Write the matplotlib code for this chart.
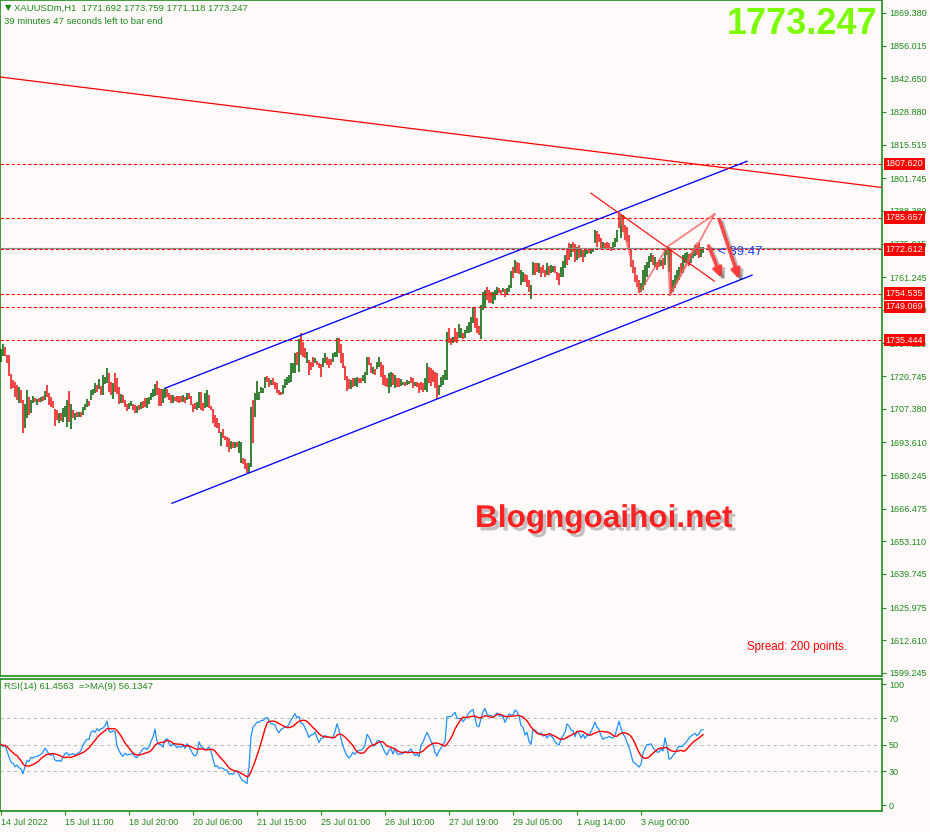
import matplotlib
matplotlib.use("Agg")
import matplotlib.pyplot as plt
import matplotlib.patheffects as pe
import pandas as pd

# -------------------------------------------------------------------
# DATA

# bar highs / lows, one per hour bar, oldest first
highs = [
    1731.8, 1733.9, 1732.8, 1729.4, 1729.4, 1721.6, 1719.2, 1718.5, 1717.1, 1716.2,
    1715.1, 1711.0, 1709.3, 1715.1, 1712.3, 1711.0, 1712.6, 1711.6, 1711.2, 1711.6,
    1712.3, 1712.6, 1714.8, 1717.1, 1714.0, 1712.3, 1710.7, 1707.1, 1706.9, 1705.5,
    1705.8, 1707.5, 1708.5, 1711.0, 1714.6, 1709.3, 1706.9, 1705.8, 1706.2, 1706.2,
    1706.2, 1708.0, 1709.3, 1711.2, 1710.7, 1715.1, 1715.3, 1718.1, 1717.1, 1719.4,
    1716.7, 1721.2, 1720.5, 1723.9, 1722.2, 1718.5, 1717.8, 1721.9, 1719.8, 1716.2,
    1713.4, 1713.0, 1711.0, 1709.3, 1709.9, 1710.7, 1709.3, 1708.9, 1708.5, 1708.9,
    1710.3, 1710.7, 1711.6, 1711.6, 1712.3, 1713.7, 1715.3, 1717.5, 1718.9, 1715.7,
    1715.3, 1715.3, 1715.7, 1715.3, 1713.7, 1713.0, 1713.0, 1712.3, 1712.6, 1712.6,
    1712.6, 1713.0, 1712.3, 1714.0, 1714.0, 1712.6, 1709.3, 1709.9, 1710.3, 1714.4,
    1714.4, 1709.9, 1713.7, 1715.1, 1713.0, 1708.5, 1707.1, 1704.8, 1703.5, 1701.7,
    1698.0, 1698.9, 1696.2, 1696.0, 1695.3, 1694.3, 1693.9, 1693.9, 1693.9, 1694.3,
    1693.9, 1687.1, 1686.7, 1685.3, 1685.0, 1708.2, 1711.0, 1714.0, 1718.9, 1714.4,
    1716.2, 1715.7, 1720.5, 1720.8, 1719.8, 1719.2, 1719.8, 1718.5, 1717.8, 1715.1,
    1714.4, 1717.1, 1719.4, 1720.5, 1721.2, 1726.0, 1726.2, 1730.3, 1730.8, 1735.8,
    1738.3, 1734.8, 1732.1, 1730.8, 1727.3, 1726.7, 1728.7, 1728.0, 1727.1, 1726.0,
    1725.7, 1728.0, 1730.1, 1728.4, 1727.6, 1727.6, 1730.1, 1730.8, 1736.2, 1736.2,
    1733.9, 1730.1, 1724.9, 1720.8, 1719.4, 1719.2, 1719.8, 1719.8, 1720.5, 1719.8,
    1720.1, 1721.2, 1722.6, 1728.4, 1728.4, 1726.2, 1724.6, 1723.5, 1726.7, 1728.4,
    1726.7, 1725.3, 1721.2, 1719.8, 1722.2, 1722.6, 1721.9, 1721.2, 1719.8, 1719.8,
    1719.4, 1718.5, 1718.5, 1719.2, 1718.9, 1720.2, 1719.8, 1718.5, 1718.5, 1717.8,
    1718.5, 1717.8, 1719.8, 1726.0, 1724.6, 1723.9, 1723.2, 1722.6, 1721.9, 1717.1,
    1720.5, 1721.2, 1723.2, 1738.9, 1740.3, 1736.2, 1736.9, 1740.3, 1738.9, 1742.1,
    1740.3, 1738.3, 1739.6, 1741.3, 1743.0, 1745.1, 1748.9, 1748.5, 1744.4, 1741.3,
    1749.9, 1755.3, 1756.0, 1757.1, 1756.0, 1755.3, 1755.3, 1756.0, 1757.4, 1756.7,
    1756.0, 1756.7, 1756.3, 1756.7, 1758.0, 1763.9, 1765.5, 1768.3, 1767.6, 1766.9,
    1764.2, 1763.5, 1762.5, 1762.1, 1760.1, 1758.0, 1767.6, 1767.2, 1767.2, 1766.9,
    1765.5, 1766.2, 1764.2, 1766.9, 1765.8, 1766.2, 1765.8, 1765.8, 1763.5, 1762.8,
    1765.5, 1767.9, 1770.3, 1773.1, 1775.1, 1774.7, 1775.8, 1774.7, 1773.7, 1774.4,
    1773.1, 1772.4, 1773.1, 1772.4, 1772.8, 1773.1, 1773.1, 1780.6, 1780.1, 1778.8,
    1777.4, 1775.8, 1775.1, 1775.8, 1775.1, 1773.7, 1775.8, 1777.1, 1780.6, 1788.1,
    1786.7, 1786.7, 1782.6, 1781.9, 1778.5, 1772.4, 1768.3, 1765.5, 1762.1, 1760.1,
    1758.7, 1764.2, 1766.2, 1767.6, 1770.1, 1771.0, 1770.3, 1769.6, 1767.6, 1768.3,
    1768.3, 1769.0, 1773.1, 1773.7, 1773.7, 1773.1, 1760.1, 1762.1, 1764.2, 1765.5,
    1766.9, 1770.3, 1771.0, 1771.7, 1770.6, 1771.0, 1772.4, 1774.4, 1774.4, 1775.1,
    1773.7, 1773.759,
]
lows = [
    1726.7, 1729.0, 1729.0, 1726.0, 1720.9, 1715.3, 1715.7, 1712.3, 1711.0, 1709.9,
    1709.6, 1697.6, 1699.4, 1703.5, 1704.8, 1705.8, 1709.6, 1710.3, 1708.9, 1710.3,
    1710.3, 1710.4, 1711.0, 1712.3, 1708.9, 1707.9, 1707.5, 1700.3, 1702.8, 1701.7,
    1702.5, 1702.1, 1703.9, 1699.8, 1702.1, 1699.2, 1703.5, 1702.8, 1704.1, 1704.1,
    1703.9, 1704.8, 1706.9, 1708.0, 1708.5, 1711.0, 1713.0, 1713.7, 1714.4, 1715.3,
    1713.0, 1713.0, 1717.5, 1717.8, 1714.4, 1713.0, 1711.2, 1714.4, 1713.4, 1709.3,
    1709.6, 1709.6, 1708.0, 1706.6, 1707.1, 1708.5, 1706.9, 1705.5, 1705.5, 1706.9,
    1707.1, 1707.5, 1707.9, 1707.5, 1709.3, 1711.0, 1712.3, 1712.6, 1713.0, 1708.5,
    1708.5, 1709.6, 1711.6, 1712.3, 1711.0, 1709.9, 1709.9, 1710.7, 1710.3, 1709.9,
    1710.3, 1710.3, 1709.9, 1711.0, 1711.2, 1708.9, 1706.2, 1707.1, 1706.9, 1707.5,
    1706.9, 1706.6, 1707.5, 1708.2, 1707.5, 1706.9, 1701.4, 1700.1, 1699.4, 1697.3,
    1692.1, 1695.3, 1694.6, 1691.9, 1689.8, 1690.8, 1691.2, 1691.2, 1691.9, 1689.4,
    1685.0, 1684.8, 1682.6, 1681.2, 1680.9, 1683.7, 1693.2, 1703.9, 1711.0, 1711.0,
    1714.0, 1713.7, 1715.7, 1718.5, 1716.4, 1717.1, 1717.1, 1715.3, 1713.7, 1713.0,
    1713.0, 1713.4, 1715.7, 1717.1, 1717.8, 1718.5, 1721.9, 1721.9, 1725.3, 1722.6,
    1729.4, 1728.7, 1728.0, 1726.0, 1721.2, 1723.2, 1724.6, 1726.2, 1725.3, 1723.9,
    1720.2, 1724.6, 1726.0, 1725.3, 1723.9, 1725.3, 1726.7, 1728.4, 1728.7, 1730.1,
    1726.0, 1723.9, 1719.2, 1714.8, 1715.3, 1715.3, 1716.4, 1716.7, 1716.4, 1717.8,
    1718.1, 1718.9, 1718.1, 1721.2, 1725.3, 1722.2, 1721.6, 1721.2, 1723.5, 1724.6,
    1720.5, 1717.1, 1716.7, 1716.4, 1714.0, 1716.4, 1717.1, 1715.7, 1716.4, 1716.4,
    1716.7, 1717.1, 1716.7, 1717.1, 1717.5, 1717.8, 1715.7, 1716.7, 1716.4, 1714.0,
    1715.1, 1714.4, 1715.1, 1714.4, 1717.8, 1716.7, 1718.5, 1715.7, 1711.4, 1713.0,
    1716.4, 1717.1, 1719.2, 1719.2, 1734.2, 1733.5, 1734.2, 1734.8, 1734.2, 1736.2,
    1736.2, 1735.8, 1736.2, 1738.3, 1738.3, 1738.9, 1742.4, 1740.3, 1738.3, 1737.6,
    1735.8, 1747.8, 1748.5, 1751.9, 1750.5, 1750.8, 1750.3, 1751.9, 1754.0, 1754.6,
    1754.4, 1755.3, 1753.0, 1754.0, 1755.3, 1756.7, 1760.8, 1763.1, 1762.8, 1762.5,
    1758.0, 1759.4, 1759.4, 1757.4, 1755.3, 1752.2, 1762.1, 1762.1, 1763.5, 1762.8,
    1761.5, 1762.8, 1761.5, 1762.1, 1762.1, 1763.1, 1763.5, 1762.8, 1760.1, 1758.0,
    1761.5, 1761.5, 1765.1, 1766.2, 1768.3, 1769.6, 1771.7, 1767.6, 1768.3, 1769.0,
    1769.6, 1767.6, 1769.6, 1770.6, 1771.0, 1770.6, 1771.4, 1775.1, 1773.7, 1775.8,
    1773.1, 1773.3, 1773.1, 1773.1, 1773.1, 1772.0, 1773.1, 1773.7, 1775.8, 1781.2,
    1777.1, 1779.9, 1776.5, 1775.8, 1772.4, 1765.5, 1762.8, 1759.4, 1757.4, 1754.6,
    1755.0, 1756.0, 1758.0, 1761.5, 1764.9, 1767.6, 1766.2, 1765.5, 1764.2, 1765.5,
    1766.0, 1764.6, 1766.2, 1770.3, 1763.5, 1754.2, 1755.3, 1756.7, 1758.7, 1760.1,
    1762.8, 1762.8, 1766.9, 1766.9, 1766.0, 1766.9, 1769.0, 1770.1, 1770.3, 1769.0,
    1769.6, 1771.118,
]
# bar direction: g = close above open, r = close below open
bar_dir = (
    "ggrrrrrrrg" "rrggrggrgr" "grgrrrrrrg" "rgggrgrgrg" "rgggrgggrg"
    "rgggrrgrrr" "grrrggrrgr" "grrgggggrr" "rggrrrgrrr" "rgrgrrrrgg"
    "rrggrrrrrr" "grrrrgrgrg" "grrrggrggg" "gggrrgrrrr" "rgggggggrg"
    "rrrgrrrgrr" "rggrrrgggr" "rrrrrgrggr" "rgggrrgrgg" "rrrrggrgrr"
    "ggrggrrgrr" "rrggrrrrrg" "ggggrrgrrg" "grgggggrrr" "gggrrrgggr"
    "rgrgggrgrr" "ggrrrggrrg" "rrrgrggrrr" "gggrrgrrgr" "grggrgggrr"
    "rgrrrrgggr" "grrrrrrrrr" "ggggggrgrr" "grgggrgggg" "rgggrgggrr"
    "gg"
)

# RSI(14) values, one per bar
rsi = [
    50.3, 48.6, 49.8, 45.3, 40.8, 37.0, 36.0, 33.5, 34.7, 32.7,
    31.7, 28.2, 33.5, 38.2, 37.2, 40.5, 40.0, 41.0, 41.3, 42.0,
    42.8, 44.5, 47.3, 45.5, 42.8, 42.0, 43.0, 38.5, 37.7, 38.2,
    37.5, 40.5, 43.5, 44.0, 42.0, 42.8, 43.3, 42.3, 43.5, 43.8,
    46.0, 49.8, 52.3, 54.3, 54.1, 59.4, 60.6, 59.4, 62.2, 60.6,
    62.2, 62.6, 64.4, 67.9, 60.4, 59.4, 60.6, 59.9, 49.0, 45.5,
    43.0, 41.3, 43.5, 42.3, 42.8, 43.0, 43.3, 41.0, 40.2, 42.8,
    44.8, 47.0, 47.8, 46.3, 48.3, 52.8, 55.8, 61.9, 52.3, 50.3,
    50.1, 48.1, 53.6, 54.6, 51.3, 49.0, 50.6, 49.8, 47.8, 49.0,
    48.1, 49.6, 47.3, 50.8, 48.8, 45.8, 42.8, 41.5, 43.3, 52.3,
    48.6, 47.8, 46.0, 47.0, 48.3, 45.3, 39.2, 33.5, 34.2, 32.2,
    32.7, 32.2, 30.9, 30.7, 27.9, 28.2, 27.7, 29.7, 30.2, 27.2,
    24.7, 22.7, 22.1, 20.6, 33.5, 56.1, 63.4, 64.9, 67.2, 66.9,
    68.2, 68.4, 69.9, 70.7, 68.2, 65.9, 65.9, 64.9, 61.1, 59.1,
    61.6, 62.4, 63.7, 62.9, 65.7, 68.9, 70.9, 73.5, 70.4, 71.4,
    66.4, 65.9, 62.6, 59.4, 55.6, 57.6, 57.6, 59.6, 55.3, 51.6,
    54.8, 55.1, 57.1, 55.6, 55.6, 55.3, 56.1, 59.9, 65.9, 61.4,
    54.3, 49.3, 44.8, 41.8, 40.0, 41.8, 44.3, 42.8, 45.0, 45.8,
    45.8, 47.1, 49.8, 57.9, 55.9, 52.3, 49.0, 49.8, 52.8, 53.3,
    50.8, 47.3, 44.3, 42.3, 46.0, 47.1, 43.0, 47.3, 43.3, 42.8,
    43.0, 43.5, 44.8, 43.8, 45.5, 46.8, 44.3, 41.8, 43.0, 41.0,
    49.8, 52.0, 56.1, 59.4, 56.3, 52.6, 50.1, 44.3, 41.5, 45.3,
    47.5, 50.6, 52.3, 71.2, 71.2, 71.5, 72.7, 74.5, 69.9, 69.9,
    69.9, 67.4, 69.4, 71.7, 74.2, 75.7, 76.7, 69.9, 64.2, 63.7,
    69.9, 75.0, 77.5, 73.2, 71.9, 72.2, 70.4, 72.5, 74.0, 71.7,
    71.9, 71.4, 66.9, 70.4, 73.2, 72.5, 72.5, 76.2, 75.0, 71.7,
    64.4, 63.4, 57.4, 59.4, 52.8, 50.3, 61.6, 61.1, 59.4, 58.1,
    59.1, 56.6, 57.4, 55.1, 56.9, 56.9, 55.1, 52.3, 50.8, 49.8,
    54.1, 56.9, 59.4, 65.7, 64.2, 61.1, 60.6, 56.1, 60.4, 58.6,
    55.1, 57.9, 54.8, 57.1, 56.9, 59.9, 63.2, 66.9, 63.4, 61.6,
    57.1, 54.1, 55.3, 55.3, 56.3, 55.6, 55.1, 57.4, 62.4, 67.9,
    62.4, 58.1, 56.1, 51.8, 48.3, 42.8, 37.2, 36.0, 34.5, 33.2,
    35.2, 43.5, 47.3, 50.1, 50.3, 50.8, 48.1, 46.0, 44.5, 44.5,
    46.8, 45.3, 55.3, 48.6, 39.2, 39.7, 42.0, 43.5, 46.6, 49.0,
    48.6, 49.3, 51.1, 52.8, 55.1, 56.6, 57.6, 58.6, 56.9, 58.4,
    61.1, 61.46,
]

# horizontal levels drawn on the chart and the live bid
levels = [1807.620, 1785.657, 1772.612, 1754.535, 1749.069, 1735.444]
bid = 1773.247

# price scale
price_ticks = [1869.380, 1856.015, 1842.650, 1828.880, 1815.515, 1801.745,
               1788.380, 1775.015, 1761.245, 1747.880, 1734.110, 1720.745,
               1707.380, 1693.610, 1680.245, 1666.475, 1653.110, 1639.745,
               1625.975, 1612.610, 1599.245]

# time scale (bar index of each label)
date_pos = [0, 32, 64, 96, 128, 160, 192, 224, 256, 288, 320]
date_labels = ["14 Jul 2022", "15 Jul 11:00", "18 Jul 20:00", "20 Jul 06:00",
               "21 Jul 15:00", "25 Jul 01:00", "26 Jul 10:00", "27 Jul 19:00",
               "29 Jul 05:00", "1 Aug 14:00", "3 Aug 00:00"]

# drawn objects, as (bar index, price)
chan_top_x, chan_top_y = [82, 373], [1715.8, 1808.7]
chan_bot_x, chan_bot_y = [85.5, 375.5], [1668.7, 1762.05]
trend_x, trend_y = [-0.5, 440], [1843.2, 1798.0]
cross_x, cross_y = [295, 356.7], [1795.6, 1759.6]
zig_x = [309, 319.2, 333.2, 334.5, 356.7]
zig_y = [1788.05, 1754.9, 1773.7, 1753.95, 1787.0]
zig_extra = [((333.2, 1773.7), (356.7, 1787.0)),
             ((334.5, 1753.95), (347.9, 1775.1))]
arrows = [((353.3, 1775.1), (360.8, 1759.9)),
          ((358.7, 1786.0), (369.5, 1759.4))]

# -------------------------------------------------------------------
# STYLE
bg = "#FFFAFA"
green_txt = "#1C8A1C"
frame = "#1E8C1E"
bull = "#006000"
bear = "#F01010"

plt.rcParams["font.family"] = ["Liberation Sans", "DejaVu Sans"]

fig = plt.figure(figsize=(9.3, 8.32), dpi=100, facecolor=bg)
ax = fig.add_axes([0, 156 / 832, 882 / 930, 676 / 832], facecolor=bg)
ax2 = fig.add_axes([0, 21 / 832, 882 / 930, 132.4 / 832], facecolor=bg, sharex=ax)

n = len(highs)
xs = list(range(n))

# -------------------------------------------------------------------
# MAIN PANEL
cols = [bull if d == "g" else bear for d in bar_dir]
ax.vlines(xs, lows, highs, colors=cols, lw=1.1, zorder=3)

for lv in levels:
    ax.axhline(lv, color="red", lw=0.8, ls=(0, (3, 2)), zorder=4)
ax.axhline(bid, color="#8C8C8C", lw=0.8, zorder=4)

ax.plot(chan_top_x, chan_top_y, color="#0000FF", lw=0.95, zorder=5)
ax.plot(chan_bot_x, chan_bot_y, color="#0000FF", lw=0.95, zorder=5)
ax.plot(trend_x, trend_y, color="red", lw=0.9, zorder=5)
ax.plot(cross_x, cross_y, color="red", lw=0.8, zorder=5)

zz = dict(color="#F25A5A", lw=1.4, alpha=0.7, zorder=6)
ax.plot(zig_x, zig_y, **zz)
for a, b in zig_extra:
    ax.plot([a[0], b[0]], [a[1], b[1]], **zz)

# timer label next to the last bar
ax.text(358.6, 1771.5, "< 39:47", color="#2040FF",
        fontsize=9.5, va="center", ha="left", zorder=6)

for a, b in arrows:
    ax.annotate("", xy=b, xytext=a, zorder=7,
                arrowprops=dict(arrowstyle="-|>", color="#FF3A3A", lw=2.6,
                                mutation_scale=13, alpha=0.9,
                                path_effects=[pe.SimpleLineShadow(offset=(2, -2), alpha=0.25),
                                              pe.Normal()]))

ax.set_xlim(-0.5, 440.5)
ax.set_ylim(1597.99, 1874.70)

ax.yaxis.tick_right()
ax.set_yticks(price_ticks)
ax.set_yticklabels([f"{p:.3f}" for p in price_ticks])
ax.tick_params(axis="y", colors=frame, labelcolor=green_txt, labelsize=6.5,
               length=3, width=0.8, pad=2)
ax.tick_params(axis="x", bottom=False, labelbottom=False)

# red price boxes on the scale
for lv in levels:
    ax.text(1.004, lv, f"{lv:.3f}", transform=ax.get_yaxis_transform(),
            color="white", fontsize=6.5, ha="left", va="center", clip_on=False,
            zorder=10, bbox=dict(boxstyle="square,pad=0.18", fc="#FF0000", ec="none"))

for s in ax.spines.values():
    s.set_color(frame)
    s.set_linewidth(1.2)

# header texts
ax.text(5 / 882, 1 - 8 / 676, "\u25bc", transform=ax.transAxes, color="#0E8A0E",
        fontsize=6, va="center", ha="left", family="DejaVu Sans")
ax.text(14 / 882, 1 - 8 / 676, "XAUUSDm,H1  1771.692 1773.759 1771.118 1773.247",
        transform=ax.transAxes, color=green_txt, fontsize=6.8, va="center", ha="left")
ax.text(4 / 882, 1 - 21 / 676, "39 minutes 47 seconds left to bar end",
        transform=ax.transAxes, color=green_txt, fontsize=6.8, va="center", ha="left")

ax.text(877 / 882, 1 - 25 / 676, "1773.247", transform=ax.transAxes, color="#7CFC00",
        fontsize=26, fontweight="bold", va="center", ha="right")

ax.text(475 / 882, 1 - 527 / 676, "Blogngoaihoi.net", transform=ax.transAxes,
        color="#FF2222", fontsize=22.7, fontweight="bold", va="baseline", ha="left",
        zorder=8, path_effects=[pe.SimplePatchShadow(offset=(2.5, -2.5), shadow_rgbFace="#9A9A9A", alpha=0.6),
                                pe.Normal()])

ax.text(747 / 882, 1 - 647 / 676, "Spread: 200 points.", transform=ax.transAxes,
        color="#FF0000", fontsize=8.3, va="center", ha="left")

# -------------------------------------------------------------------
# RSI PANEL
rsi_s = pd.Series(rsi)
ma9 = rsi_s.rolling(9, min_periods=1).mean()

for lv in [70, 50, 30]:
    ax2.axhline(lv, color="#BDBDBD", lw=0.8, ls=(0, (3, 3)), zorder=1)
ax2.plot(xs, rsi_s, color="#1E90FF", lw=0.9, zorder=3)
ax2.plot(xs, ma9, color="#FF0000", lw=1.0, zorder=4)

ax2.set_ylim(0, 100)
ax2.yaxis.tick_right()
ax2.set_yticks([95.8, 70, 50, 30, 4.5])
ax2.set_yticklabels(["100", "70", "50", "30", "0"])
ax2.tick_params(axis="y", colors=frame, labelcolor=green_txt, labelsize=6.5,
                length=3, width=0.8, pad=2)

ax2.set_xticks(date_pos)
ax2.set_xticklabels(date_labels)
ax2.tick_params(axis="x", colors=frame, labelcolor=green_txt, labelsize=6.5,
                length=3, width=0.8, pad=2)
for lbl in ax2.get_xticklabels():
    lbl.set_horizontalalignment("left")

for s in ax2.spines.values():
    s.set_color(frame)
    s.set_linewidth(1.2)

ax2.text(4 / 882, 1 - 8 / 132.4, "RSI(14) 61.4563  =>MA(9) 56.1347",
         transform=ax2.transAxes, color=green_txt, fontsize=6.8, va="center", ha="left")

fig.savefig("out.png", dpi=100, facecolor=bg)
